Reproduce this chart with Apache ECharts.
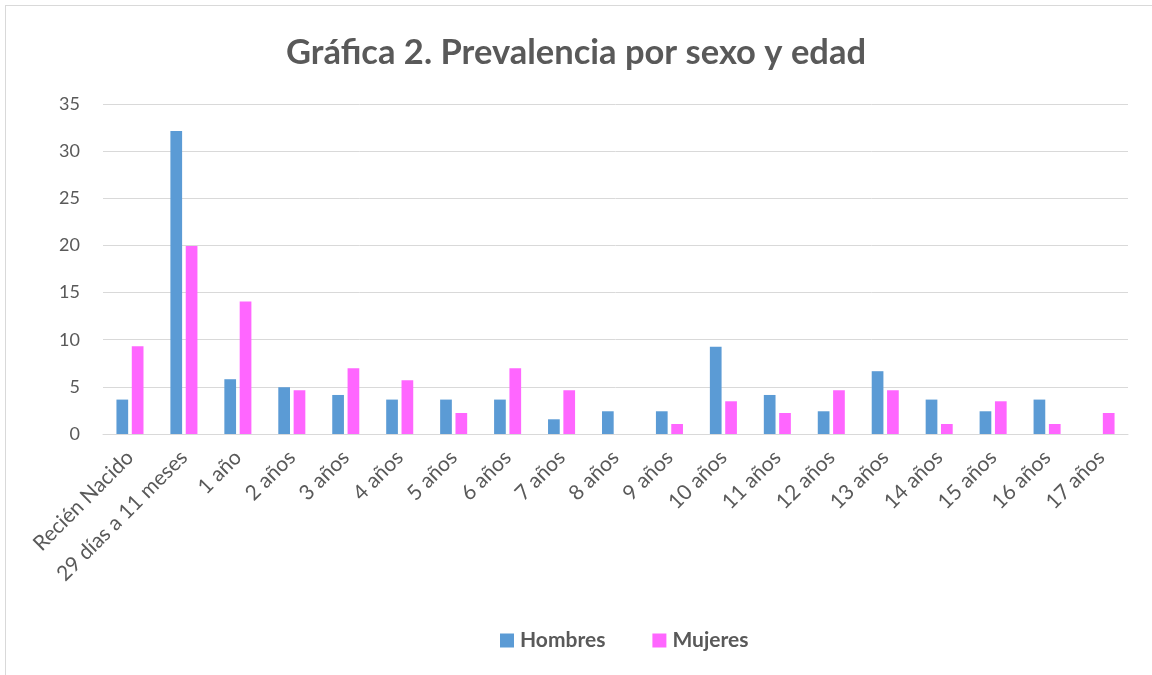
<!DOCTYPE html>
<html><head><meta charset="utf-8">
<script src="https://cdn.jsdelivr.net/npm/echarts@6/dist/echarts.min.js"></script>
<style>
html,body{margin:0;padding:0;background:#fff;}
#frame{position:absolute;left:5px;top:5px;width:1160px;height:680px;border:1px solid #d9d9d9;box-sizing:border-box;}
#c{position:absolute;left:0;top:0;width:1152px;height:675px;}
</style></head>
<body><div id="frame"></div><div id="c"></div>
<script>
const categories = ["Recién Nacido","29 días a 11 meses","1 año","2 años","3 años","4 años","5 años","6 años","7 años","8 años","9 años","10 años","11 años","12 años","13 años","14 años","15 años","16 años","17 años"];
const hombres = [3.65,32.13,5.81,4.96,4.14,3.65,3.65,3.65,1.56,2.41,2.41,9.25,4.14,2.41,6.66,3.65,2.41,3.65,0];
const mujeres = [9.32,19.94,14.06,4.64,6.98,5.70,2.23,6.98,4.64,0,1.06,3.47,2.23,4.64,4.64,1.06,3.47,1.06,2.23];
const yTicks = {min:0,max:35,interval:5};
const font = "Lato, 'Open Sans', sans-serif";
const chart = echarts.init(document.getElementById('c'));
chart.setOption({
  animation:false,
  title:{text:"Gráfica 2. Prevalencia por sexo y edad",left:'center',top:30,
    textStyle:{fontFamily:font,fontWeight:'bold',fontSize:34.5,color:'#595959'}},
  legend:{top:625,left:495,itemWidth:14,itemHeight:14,itemGap:47,icon:'rect',
    textStyle:{fontFamily:font,fontWeight:'bold',fontSize:21,color:'#595959',padding:[0,0,0,1]}},
  grid:{left:103,right:24,top:104,bottom:241,containLabel:false},
  xAxis:{type:'category',data:categories,
    axisLine:{lineStyle:{color:'#d9d9d9',width:1}},axisTick:{show:false},
    axisLabel:{rotate:45,fontFamily:font,fontSize:21,color:'#595959',margin:20,interval:0}},
  yAxis:{type:'value',min:yTicks.min,max:yTicks.max,interval:yTicks.interval,
    axisLine:{show:false},axisTick:{show:false},
    axisLabel:{fontFamily:font,fontSize:18,color:'#595959',margin:23},
    splitLine:{lineStyle:{color:'#d9d9d9',width:1}}},
  series:[
    {name:'Hombres',type:'bar',data:hombres,barWidth:'21.7%',barGap:'31%',itemStyle:{color:'#5B9BD5'}},
    {name:'Mujeres',type:'bar',data:mujeres,barWidth:'21.7%',itemStyle:{color:'#FF66FF'}}
  ]
});
</script></body></html>
